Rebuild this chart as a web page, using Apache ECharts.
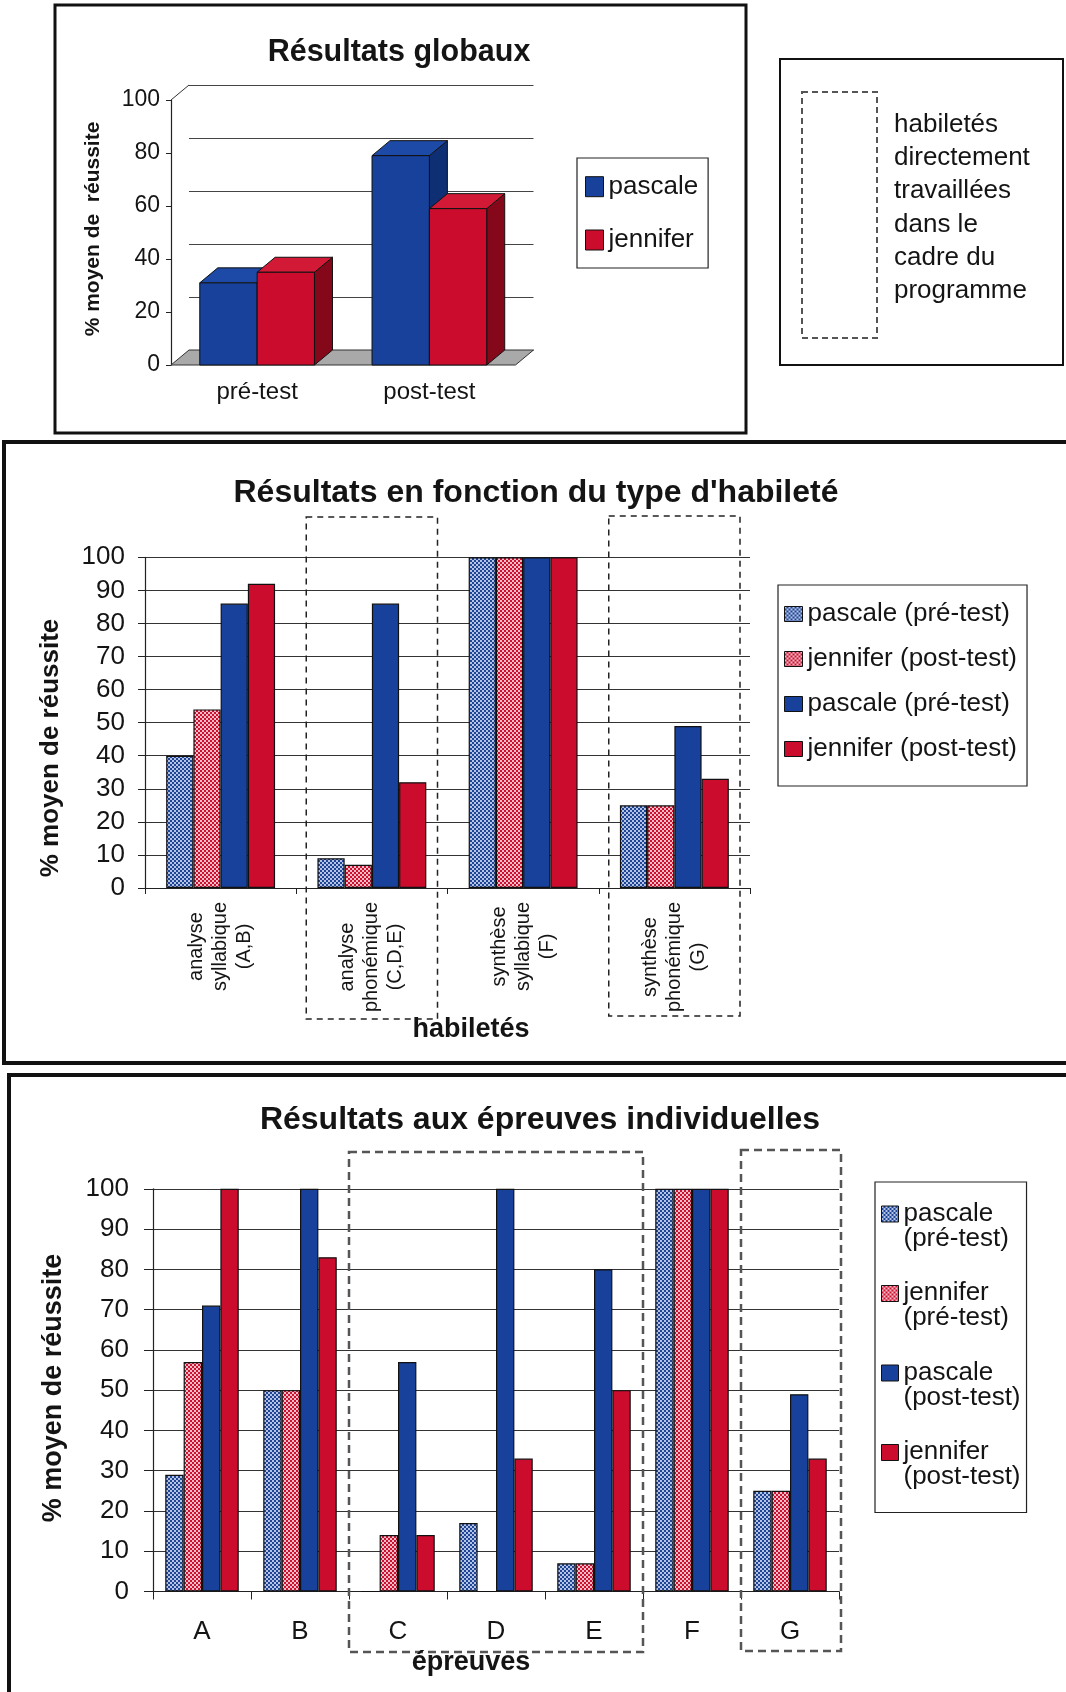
<!DOCTYPE html>
<html>
<head>
<meta charset="utf-8">
<script src="https://cdn.jsdelivr.net/npm/echarts@6/dist/echarts.min.js"></script>
<style>
  html, body { margin: 0; padding: 0; background: #ffffff; }
  #page { width: 1066px; height: 1692px; }
</style>
</head>
<body>
<div id="page"></div>
<script>
// ---------- data ----------
const globalCategories = ['pré-test', 'post-test'];
const globalPascale = [31, 79];
const globalJennifer = [35, 59];

const skillCategories = [
  'analyse\nsyllabique\n(A,B)',
  'analyse\nphonémique\n(C,D,E)',
  'synthèse\nsyllabique\n(F)',
  'synthèse\nphonémique\n(G)'
];
const skillPascalePre = [40, 9, 100, 25];
const skillJenniferPre = [54, 7, 100, 25];
const skillPascalePost = [86, 86, 100, 49];
const skillJenniferPost = [92, 32, 100, 33];
const skillLegendLabels = ['pascale (pré-test)', 'jennifer (post-test)', 'pascale (pré-test)', 'jennifer (post-test)'];

const testCategories = ['A', 'B', 'C', 'D', 'E', 'F', 'G'];
const testPascalePre = [29, 50, 0, 17, 7, 100, 25];
const testJenniferPre = [57, 50, 14, 0, 7, 100, 25];
const testPascalePost = [71, 100, 57, 100, 80, 100, 49];
const testJenniferPost = [100, 83, 14, 33, 50, 100, 33];
const testLegendLabels = ['pascale\n(pré-test)', 'jennifer\n(pré-test)', 'pascale\n(post-test)', 'jennifer\n(post-test)'];

const noteLines = ['habiletés', 'directement', 'travaillées', 'dans le', 'cadre du', 'programme'];

// ---------- styling ----------
const FONT = '"Liberation Sans", Arial, Helvetica, sans-serif';
const INK = '#141414';
const BLUE = '#17419a';
const RED = '#cc0c2c';

// small checkered fill used for the pre-test bars
function dotPattern(base, dot) {
  const c = document.createElement('canvas');
  c.width = 4; c.height = 4;
  const g = c.getContext('2d');
  g.fillStyle = base; g.fillRect(0, 0, 4, 4);
  g.fillStyle = dot; g.fillRect(0, 0, 2, 2); g.fillRect(2, 2, 2, 2);
  return { image: c, repeat: 'repeat' };
}
const BLUE_DOTS = dotPattern('#1f4596', '#b4c3e4');
const RED_DOTS = dotPattern('#cc1030', '#f5bcc7');

const LEGEND_TEXT = {
  g_p: 'pascale', g_j: 'jennifer',
  m_pp: skillLegendLabels[0], m_jp: skillLegendLabels[1], m_pq: skillLegendLabels[2], m_jq: skillLegendLabels[3],
  t_pp: testLegendLabels[0], t_jp: testLegendLabels[1], t_pq: testLegendLabels[2], t_jq: testLegendLabels[3]
};

// ---------- 3D columns for the overall results ----------
const DEPTH = [18, -15];
function boxRenderer(slot, faces) {
  return function (params, api) {
    const base = api.coord([api.value(0), 0]);
    const top = api.coord([api.value(0), api.value(1)]);
    const band = api.size([1, 0])[0];
    const w = band * 0.333;
    const x0 = base[0] - w + slot * w;
    const dx = DEPTH[0], dy = DEPTH[1];
    const edge = { stroke: '#111', lineWidth: 1 };
    return {
      type: 'group',
      children: [
        { type: 'polygon', shape: { points: [[x0 + w, top[1]], [x0 + w + dx, top[1] + dy], [x0 + w + dx, base[1] + dy], [x0 + w, base[1]]] },
          style: Object.assign({ fill: faces.side }, edge) },
        { type: 'polygon', shape: { points: [[x0, top[1]], [x0 + dx, top[1] + dy], [x0 + w + dx, top[1] + dy], [x0 + w, top[1]]] },
          style: Object.assign({ fill: faces.top }, edge) },
        { type: 'rect', shape: { x: x0, y: top[1], width: w, height: base[1] - top[1] },
          style: Object.assign({ fill: faces.front }, edge) }
      ]
    };
  };
}
function floorRenderer(params) {
  const cs = params.coordSys;
  const dx = DEPTH[0], dy = DEPTH[1];
  const yb = cs.y + cs.height;
  return {
    type: 'group',
    children: [
      { type: 'polygon', shape: { points: [[cs.x, yb], [cs.x + cs.width, yb], [cs.x + cs.width + dx, yb + dy], [cs.x + dx, yb + dy]] },
        style: { fill: '#a9a9a9', stroke: '#333', lineWidth: 1 } },
      { type: 'line', shape: { x1: cs.x, y1: cs.y, x2: cs.x + dx, y2: cs.y + dy }, style: { stroke: '#333', lineWidth: 1 } }
    ]
  };
}

function pairs(values) { return values.map((v, i) => [i, v]); }

function barSeries(name, axis, values, color, gap) {
  return {
    type: 'bar', name: name, xAxisIndex: axis, yAxisIndex: axis, data: values,
    barGap: '0%', barCategoryGap: gap,
    itemStyle: { color: color, borderColor: '#111', borderWidth: 1.2 }
  };
}

const valueAxisBase = (grid, interval, tickLen, fontSize, margin) => ({
  gridIndex: grid, type: 'value', min: 0, max: 100, interval: interval,
  axisLine: { show: true, lineStyle: { color: '#222', width: 1.2 } },
  axisTick: { show: true, length: tickLen, lineStyle: { color: '#222', width: 1 } },
  axisLabel: { fontSize: fontSize, margin: margin, color: INK, fontFamily: FONT },
  splitLine: { show: true, lineStyle: { color: '#333', width: 1.2 } }
});

const legendBase = {
  orient: 'vertical', selectedMode: false, backgroundColor: '#fff',
  borderColor: '#222', borderWidth: 1.2, icon: 'rect',
  itemStyle: { borderColor: '#111', borderWidth: 1 },
  formatter: (n) => LEGEND_TEXT[n]
};

const chart = echarts.init(document.getElementById('page'), null, { renderer: 'canvas', width: 1066, height: 1692 });

chart.setOption({
  animation: false,
  backgroundColor: '#ffffff',
  textStyle: { fontFamily: FONT, color: INK },
  grid: [
    { left: 171, top: 100, width: 344.5, height: 265 },   // overall, front plane
    { left: 189, top: 85, width: 344.5, height: 265 },    // overall, back wall
    { left: 145, top: 557.3, width: 605, height: 330.7 }, // by skill
    { left: 153, top: 1188.8, width: 686, height: 402.7 } // by test
  ],
  xAxis: [
    { gridIndex: 0, type: 'category', data: globalCategories,
      axisLine: { show: false }, axisTick: { show: false },
      axisLabel: { fontSize: 24, lineHeight: 28, margin: 13, color: INK, fontFamily: FONT } },
    { gridIndex: 1, type: 'category', data: globalCategories, show: false },
    { gridIndex: 2, type: 'category', data: skillCategories,
      axisLine: { show: true, lineStyle: { color: '#222', width: 1.2 } },
      axisTick: { show: true, length: 6, lineStyle: { color: '#222' } },
      axisLabel: {
        interval: 0, rotate: 90, margin: 14,
        formatter: (v) => v.split('\n').map((s) => '{c|' + s + '}').join('\n'),
        rich: { c: { fontSize: 20, lineHeight: 24, align: 'center', color: INK, fontFamily: FONT } }
      } },
    { gridIndex: 3, type: 'category', data: testCategories,
      axisLine: { show: true, lineStyle: { color: '#222', width: 1.2 } },
      axisTick: { show: true, length: 8, lineStyle: { color: '#222' } },
      axisLabel: { fontSize: 26, lineHeight: 30, margin: 25, color: INK, fontFamily: FONT } }
  ],
  yAxis: [
    Object.assign(valueAxisBase(0, 20, 5, 23, 11), { splitLine: { show: false } }),
    { gridIndex: 1, type: 'value', min: 0, max: 100, interval: 20,
      axisLine: { show: false }, axisTick: { show: false }, axisLabel: { show: false },
      splitLine: { show: true, lineStyle: { color: '#444', width: 1 } } },
    valueAxisBase(2, 10, 7, 26, 20),
    valueAxisBase(3, 10, 9, 26, 24)
  ],
  legend: [
    Object.assign({}, legendBase, {
      data: ['g_p', 'g_j'], left: 577, top: 158,
      itemWidth: 18, itemHeight: 20, itemGap: 23.3, padding: [13.7, 10, 13, 8],
      textStyle: { fontSize: 26, lineHeight: 30, color: INK, fontFamily: FONT }
    }),
    Object.assign({}, legendBase, {
      data: ['m_pp', 'm_jp', 'm_pq', 'm_jq'], left: 778, top: 585,
      itemWidth: 18, itemHeight: 15, itemGap: 15, padding: [14, 10, 22, 6],
      textStyle: { fontSize: 26, lineHeight: 30, color: INK, fontFamily: FONT }
    }),
    Object.assign({}, legendBase, {
      data: ['t_pp', 't_jp', 't_pq', 't_jq'], left: 875, top: 1182,
      icon: 'path://M0,0H17V16H0Z M17,40',
      itemWidth: 17, itemHeight: 40, itemGap: 28.5, padding: [18.5, 6, 22.5, 6],
      textStyle: { fontSize: 26, lineHeight: 25, color: INK, fontFamily: FONT }
    })
  ],
  series: [
    { type: 'custom', name: 'floor', xAxisIndex: 0, yAxisIndex: 0, silent: true,
      data: [[0, 0]], renderItem: floorRenderer },
    { type: 'custom', name: 'g_p', xAxisIndex: 0, yAxisIndex: 0, encode: { x: 0, y: 1 },
      data: pairs(globalPascale), itemStyle: { color: BLUE },
      renderItem: boxRenderer(0, { front: '#17419a', top: '#1d4aa6', side: '#0f2f74' }) },
    { type: 'custom', name: 'g_j', xAxisIndex: 0, yAxisIndex: 0, encode: { x: 0, y: 1 },
      data: pairs(globalJennifer), itemStyle: { color: RED },
      renderItem: boxRenderer(1, { front: '#cc0c2c', top: '#d21a36', side: '#85081a' }) },

    barSeries('m_pp', 2, skillPascalePre, BLUE_DOTS, '28%'),
    barSeries('m_jp', 2, skillJenniferPre, RED_DOTS, '28%'),
    barSeries('m_pq', 2, skillPascalePost, BLUE, '28%'),
    barSeries('m_jq', 2, skillJenniferPost, RED, '28%'),

    barSeries('t_pp', 3, testPascalePre, BLUE_DOTS, '25%'),
    barSeries('t_jp', 3, testJenniferPre, RED_DOTS, '25%'),
    barSeries('t_pq', 3, testPascalePost, BLUE, '25%'),
    barSeries('t_jq', 3, testJenniferPost, RED, '25%')
  ]
});

// ---------- frames, titles, notes and dashed groupings ----------
function txt(x, y, text, font, opts) {
  return Object.assign({
    type: 'text', x: x, y: y, z: 50,
    style: Object.assign({ text: text, font: font, fill: INK, align: 'center', verticalAlign: 'middle',
      textAlign: 'center', textVerticalAlign: 'middle' }, (opts && opts.style) || {})
  }, (opts && opts.el) || {});
}
function frame(x, y, w, h, lw) {
  return { type: 'rect', z: 40, shape: { x: x, y: y, width: w, height: h },
    style: { fill: 'none', stroke: '#111', lineWidth: lw } };
}
function dashed(x, y, w, h, color, lw, dash) {
  return { type: 'rect', z: 45, shape: { x: x, y: y, width: w, height: h },
    style: { fill: 'none', stroke: color, lineWidth: lw, lineDash: dash } };
}

const px = (axis, i) => chart.convertToPixel({ xAxisIndex: axis }, i);
const bandMid = px(2, 1) - px(2, 0);
const bandLow = px(3, 1) - px(3, 0);
const midBox = (i) => [px(2, i) - bandMid / 2 + 10, bandMid - 20];
const lowSpan = (a, b) => [px(3, a) - bandLow / 2, (px(3, b) + bandLow / 2) - (px(3, a) - bandLow / 2)];

const b1 = midBox(1), b2 = midBox(3);
const c1 = lowSpan(2, 4), c2 = lowSpan(6, 6);

const BOLD = (s) => 'bold ' + s + 'px ' + FONT;
const REG = (s) => s + 'px ' + FONT;

chart.setOption({
  graphic: { elements: [
    frame(55, 5, 691, 428, 3),
    frame(780, 59, 283, 306, 2),
    frame(4, 442, 1090, 621, 4),
    frame(9, 1075, 1090, 700, 4),

    txt(399, 53, 'Résultats globaux', BOLD(30.5)),
    txt(93.5, 229, '% moyen de  réussite', BOLD(21), { el: { rotation: Math.PI / 2 } }),

    dashed(802, 92, 75, 246, '#555', 2, [6, 4]),
    txt(894, 108, noteLines.join('\n'), REG(26),
      { style: { align: 'left', textAlign: 'left', verticalAlign: 'top', textVerticalAlign: 'top', lineHeight: 33.3 } }),

    txt(536, 493, "Résultats en fonction du type d'habileté", BOLD(32)),
    txt(51, 748, '% moyen de réussite', BOLD(26), { el: { rotation: Math.PI / 2 } }),
    txt(471, 1030, 'habiletés', BOLD(27)),
    dashed(b1[0], 517, b1[1], 502, '#222', 1.5, [6, 5]),
    dashed(b2[0], 516, b2[1], 500, '#222', 1.5, [6, 5]),

    txt(540, 1120, 'Résultats aux épreuves individuelles', BOLD(32)),
    txt(54, 1388, '% moyen de réussite', BOLD(27), { el: { rotation: Math.PI / 2 } }),
    txt(471, 1663, 'épreuves', BOLD(27)),
    dashed(c1[0], 1152, c1[1], 500, '#555', 2.5, [8, 5]),
    dashed(c2[0], 1150, c2[1] + 2, 501, '#555', 2.5, [8, 5])
  ] }
});
</script>
</body>
</html>
